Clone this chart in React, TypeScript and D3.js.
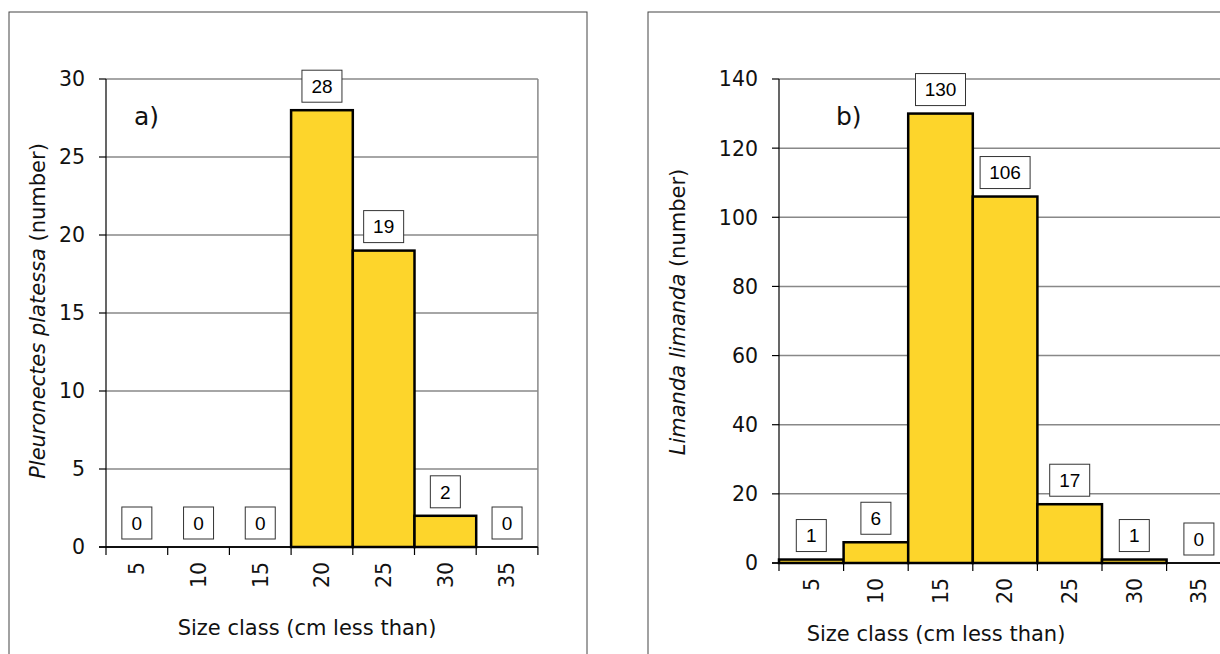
import React from 'react';
import * as d3 from 'd3';

const sizeClasses = ['5', '10', '15', '20', '25', '30', '35'];
const plaiceCounts = [0, 0, 0, 28, 19, 2, 0];
const dabCounts = [1, 6, 130, 106, 17, 1, 0];
const plaiceTicks = [0, 5, 10, 15, 20, 25, 30];
const dabTicks = [0, 20, 40, 60, 80, 100, 120, 140];

const GOTHIC = '"DejaVu Sans", sans-serif';
const ARIAL = '"Liberation Sans", Arial, sans-serif';

type PanelProps = {
  frame: [number, number, number, number];
  left: number;
  top: number;
  bottom: number;
  band: number;
  values: number[];
  ticks: number[];
  letter: string;
  letterX: number;
  species: string;
  yTitleX: number;
  yTitleY: number;
  xTitleX: number;
  xTitleY: number;
};

function Panel(p: PanelProps) {
  const right = p.left + p.band * sizeClasses.length;
  const x = d3.scaleBand().domain(sizeClasses).range([p.left, right]).padding(0);
  const y = d3
    .scaleLinear()
    .domain([0, d3.max(p.ticks) as number])
    .range([p.bottom, p.top]);

  return (
    <g>
      <rect x={p.frame[0]} y={p.frame[1]} width={p.frame[2]} height={p.frame[3]} fill="white" stroke="#444" strokeWidth={1} />
      {/* gridlines */}
      {p.ticks.map((t) => (
        <line key={'g' + t} x1={p.left} x2={right} y1={y(t)} y2={y(t)} stroke={t === 0 ? '#000' : '#888'} strokeWidth={1.5} />
      ))}
      <line x1={right} x2={right} y1={p.top} y2={p.bottom} stroke="#888" strokeWidth={1.5} />
      {/* bars */}
      {p.values.map((v, i) =>
        v > 0 ? (
          <rect
            key={'b' + i}
            x={x(sizeClasses[i])}
            y={y(v)}
            width={x.bandwidth()}
            height={y(0) - y(v)}
            fill="#FDD52B"
            stroke="#000"
            strokeWidth={2.5}
          />
        ) : null
      )}
      {/* axes */}
      <line x1={p.left} x2={p.left} y1={p.top} y2={p.bottom} stroke="#000" strokeWidth={1.2} />
      <line x1={p.left - 7} x2={right} y1={p.bottom} y2={p.bottom} stroke="#000" strokeWidth={1.5} />
      {p.ticks.map((t) => (
        <g key={'t' + t}>
          <line x1={p.left - 7} x2={p.left} y1={y(t)} y2={y(t)} stroke="#000" strokeWidth={1.2} />
          <text x={p.left - 21} y={y(t)} dy="0.36em" textAnchor="end" fontFamily={GOTHIC} fontSize={20.5} fill="#111">
            {t}
          </text>
        </g>
      ))}
      {sizeClasses.map((c, i) => (
        <g key={'x' + c}>
          <line x1={x(c)} x2={x(c)} y1={p.bottom} y2={p.bottom + 8} stroke="#000" strokeWidth={1.2} />
          {i === sizeClasses.length - 1 && (
            <line x1={right} x2={right} y1={p.bottom} y2={p.bottom + 8} stroke="#000" strokeWidth={1.2} />
          )}
          <text
            transform={`translate(${(x(c) as number) + x.bandwidth() / 2},${p.bottom + 15}) rotate(-90)`}
            dy="0.36em"
            textAnchor="end"
            fontFamily={GOTHIC}
            fontSize={20.5}
            fill="#111"
          >
            {c}
          </text>
        </g>
      ))}
      {/* value labels */}
      {p.values.map((v, i) => {
        const s = String(v);
        const w = s.length * 10 + 20;
        const h = 32;
        const cx = (x(sizeClasses[i]) as number) + x.bandwidth() / 2;
        const by = y(v) - 8;
        return (
          <g key={'l' + i}>
            <rect x={cx - w / 2} y={by - h} width={w} height={h} fill="white" stroke="#333" strokeWidth={1} />
            <text x={cx} y={by - h / 2} dy="0.36em" textAnchor="middle" fontFamily={ARIAL} fontSize={19} fill="#000">
              {s}
            </text>
          </g>
        );
      })}
      <text x={p.letterX} y={p.top + 46} fontFamily={GOTHIC} fontSize={25} fill="#111">
        {p.letter}
      </text>
      <text
        transform={`translate(${p.yTitleX},${p.yTitleY}) rotate(-90)`}
        textAnchor="middle"
        fontFamily={GOTHIC}
        fontSize={21}
        fill="#111"
      >
        <tspan fontStyle="italic">{p.species}</tspan>
        <tspan> (number)</tspan>
      </text>
      <text x={p.xTitleX} y={p.xTitleY} textAnchor="middle" fontFamily={GOTHIC} fontSize={21} fill="#111">
        Size class (cm less than)
      </text>
    </g>
  );
}

export default function App() {
  return (
    <svg width={1220} height={654} style={{ position: 'absolute', left: 0, top: 0, background: 'white' }}>
      <rect width={1220} height={654} fill="white" />
      <Panel
        frame={[9, 12, 578, 660]}
        left={106}
        top={79}
        bottom={547}
        band={61.7}
        values={plaiceCounts}
        ticks={plaiceTicks}
        letter="a)"
        letterX={134}
        species="Pleuronectes platessa"
        yTitleX={45}
        yTitleY={311}
        xTitleX={307}
        xTitleY={635}
      />
      <Panel
        frame={[648, 12, 620, 660]}
        left={779}
        top={79}
        bottom={563}
        band={64.6}
        values={dabCounts}
        ticks={dabTicks}
        letter="b)"
        letterX={836}
        species="Limanda limanda"
        yTitleX={685}
        yTitleY={312}
        xTitleX={936}
        xTitleY={641}
      />
    </svg>
  );
}
